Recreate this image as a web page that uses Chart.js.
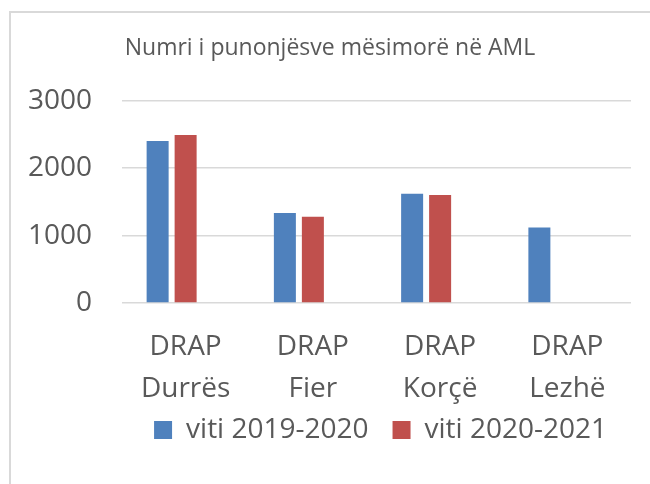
<!DOCTYPE html>
<html>
<head>
<meta charset="utf-8">
<script src="https://cdn.jsdelivr.net/npm/chart.js@4"></script>
<style>
  html, body { margin: 0; padding: 0; background: #fff; overflow: hidden; }
  #frame { position: absolute; left: 9px; top: 11px; width: 700px; height: 600px; border: 2px solid #d9d9d9; }
  #wrap { position: absolute; left: 0; top: 0; width: 650px; height: 484px; }
</style>
</head>
<body>
<div id="frame"></div>
<div id="wrap"><canvas id="myChart" width="650" height="484"></canvas></div>
<script>
// categories
const labels = [
  ['DRAP', 'Durrës'],
  ['DRAP', 'Fier'],
  ['DRAP', 'Korçë'],
  ['DRAP', 'Lezhë']
];

// series
const viti2019 = [2400, 1335, 1620, 1120];
const viti2020 = [2490, 1280, 1600, null];
const bosh = [null, null, null, null]; // empty third series, keeps Excel spacing

const yTicks = [0, 1000, 2000, 3000];

const font = 'Open Sans';
const textColor = '#595959';

const data = {
  labels: labels,
  datasets: [{
    label: 'viti 2019-2020',
    data: viti2019,
    backgroundColor: '#4f81bd'
  }, {
    label: 'viti 2020-2021',
    data: viti2020,
    backgroundColor: '#c0504d'
  }, {
    label: '',
    data: bosh,
    backgroundColor: '#9bbb59'
  }]
};

// pull the legend up a bit so it sits closer to the axis labels
const legendNudge = {
  id: 'legendNudge',
  afterLayout: function (chart) {
    chart.legend.top -= 14;
    chart.legend.bottom -= 14;
  }
};

const config = {
  type: 'bar',
  data: data,
  plugins: [legendNudge],
  options: {
    responsive: false,
    animation: false,
    layout: { padding: { left: 29, right: 19, top: 0, bottom: 16 } },
    datasets: {
      bar: { categoryPercentage: 0.66, barPercentage: 0.786 }
    },
    plugins: {
      tooltip: { enabled: false },
      title: {
        display: true,
        text: 'Numri i punonjësve mësimorë në AML',
        color: textColor,
        font: { family: font, size: 23, weight: 'normal' },
        padding: { top: 35, bottom: 38 }
      },
      legend: {
        position: 'bottom',
        align: 'end',
        labels: {
          color: textColor,
          font: { family: font, size: 28 },
          boxWidth: 18,
          boxHeight: 18,
          padding: 24,
          filter: function (item) { return item.text !== ''; }
        }
      }
    },
    scales: {
      x: {
        grid: { display: false },
        border: { display: false },
        afterFit: function (scale) { scale.height = 103; },
        ticks: {
          color: textColor,
          font: { family: font, size: 28, lineHeight: 1.5 },
          padding: 15,
          maxRotation: 0
        }
      },
      y: {
        min: 0,
        max: 3000,
        afterBuildTicks: function (axis) {
          axis.ticks = yTicks.map(function (v) { return { value: v }; });
        },
        afterFit: function (scale) { scale.width = 93; },
        grid: { color: '#d9d9d9', lineWidth: 1.5, drawTicks: false },
        border: { display: false },
        ticks: {
          color: textColor,
          font: { family: font, size: 28 },
          padding: 30,
          callback: function (v) { return String(v); }
        }
      }
    }
  }
};

const myChart = new Chart(document.getElementById('myChart'), config);
</script>
</body>
</html>
